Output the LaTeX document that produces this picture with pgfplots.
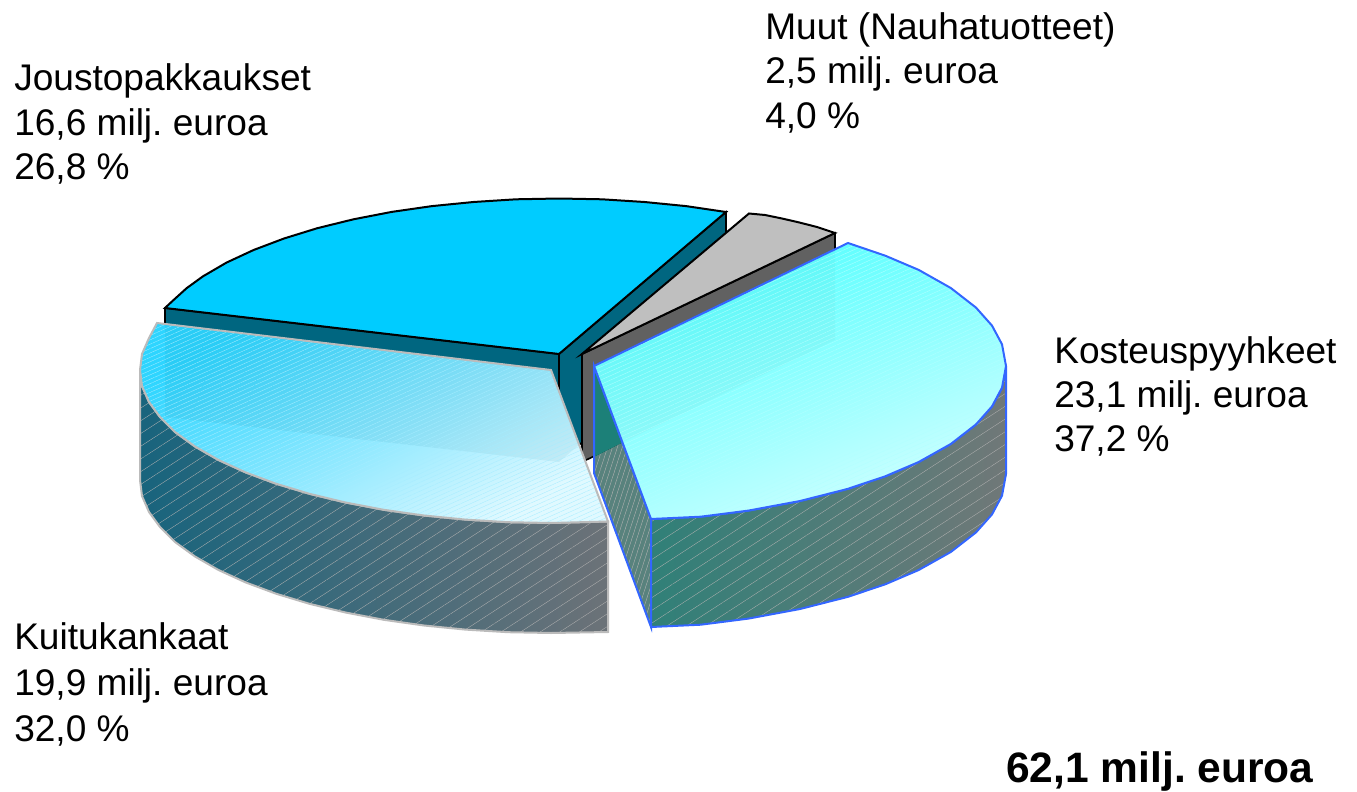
\documentclass[border=0pt]{standalone}
\usepackage{pgfplots}
\pgfplotsset{compat=1.18}
\usetikzlibrary{patterns.meta}
\usepackage{fontspec}
\setmainfont{Liberation Sans}
\frenchspacing
\definecolor{teal1}{HTML}{006680}
\definecolor{sky1}{HTML}{00CCFF}
\definecolor{edgeblue}{HTML}{3366FF}
\definecolor{edgegrey}{HTML}{BBBBBB}
\begin{document}
\begin{tikzpicture}
\begin{axis}[hide axis,scale only axis,width=1017.75pt,height=594pt,
  xmin=0,xmax=1357,ymin=0,ymax=792,y dir=reverse,clip=false,no markers]
\path[use as bounding box] (axis cs:0,0) rectangle (axis cs:1357,792);
% Joustopakkaukset walls
\addplot[draw=black,line width=1.2pt,fill=teal1] coordinates {(559,354)(726,212)(726,320)(559,462)} -- cycle;
\addplot[draw=black,line width=1.2pt,fill=teal1] coordinates {(165,308)(559,354)(559,462)(165,416)} -- cycle;
% Joustopakkaukset top
\addplot[draw=black,line width=1.5pt,fill=sky1] coordinates {(559,354)(165,308)(172.7,300.8)(186.6,288.2)(203,276.3)(226.5,262.6)(253.6,250)(284,238.5)(317.3,228.2)(353.5,219.3)(391.7,211.9)(432,206.1)(473.5,202)(516,199.3)(559,198.5)(602,199.3)(644.5,202)(686,206.1)(726,212)} -- cycle;
% Muut wall and top
\addplot[draw=black,line width=1.2pt,fill=black!62] coordinates {(582,354)(835,233)(835,340)(582,462)} -- cycle;
\addplot[draw=black,line width=1.5pt,fill=black!25] coordinates {(582,354)(749,213.5)(765,215)(782,218.5)(799,222.4)(817,227)(835,233)} -- cycle;
% Kuitukankaat wall
\addplot[draw=none,left color={rgb,255:red,24;green,100;blue,125},right color={rgb,255:red,108;green,114;blue,120}] coordinates {(140,370)(142,386)(149,402)(160,417)(175,432)(195,446.5)(218.5,460)(245.6,472.4)(276,483.7)(309.4,493.8)(345.5,502.5)(383.8,509.8)(424,515.5)(465.5,519.6)(508,522.2)(551,523)(608,521.5)(608,632)(551,633)(508,632.2)(465.5,629.6)(424,625.5)(383.8,619.8)(345.5,612.5)(309.4,603.8)(276,593.7)(245.6,582.4)(218.5,570)(195,556.5)(175,542)(160,527)(149,512)(142,496)(140,480)} -- cycle;
\addplot[draw=edgegrey,line width=1.5pt,pattern={Lines[angle=33,distance=8pt,line width=.25pt]},pattern color=black!30] coordinates {(140,370)(142,386)(149,402)(160,417)(175,432)(195,446.5)(218.5,460)(245.6,472.4)(276,483.7)(309.4,493.8)(345.5,502.5)(383.8,509.8)(424,515.5)(465.5,519.6)(508,522.2)(551,523)(608,521.5)(608,632)(551,633)(508,632.2)(465.5,629.6)(424,625.5)(383.8,619.8)(345.5,612.5)(309.4,603.8)(276,593.7)(245.6,582.4)(218.5,570)(195,556.5)(175,542)(160,527)(149,512)(142,496)(140,480)} -- cycle;
% Kuitukankaat top
\addplot[draw=none,top color=sky1!82!white,bottom color=sky1!12!white,shading angle=30] coordinates {(551,370)(157,323)(149,338)(142,354)(140,370)(142,386)(149,402)(160,417)(175,432)(195,446.5)(218.5,460)(245.6,472.4)(276,483.7)(309.4,493.8)(345.5,502.5)(383.8,509.8)(424,515.5)(465.5,519.6)(508,522.2)(551,523)(608,521.5)} -- cycle;
\addplot[draw=none,fill=teal1,fill opacity=.07] coordinates {(165,324.5)(551,370)(578.7,445)(559,462)(165,417)} -- cycle;
\addplot[draw=none,pattern={Lines[angle=24,distance=3pt,line width=.25pt]},pattern color=white!65!sky1] coordinates {(551,370)(157,323)(149,338)(142,354)(140,370)(142,386)(149,402)(160,417)(175,432)(195,446.5)(218.5,460)(245.6,472.4)(276,483.7)(309.4,493.8)(345.5,502.5)(383.8,509.8)(424,515.5)(465.5,519.6)(508,522.2)(551,523)(608,521.5)} -- cycle;
\addplot[draw=edgegrey,line width=1.5pt] coordinates {(551,370)(157,323)(149,338)(142,354)(140,370)(142,386)(149,402)(160,417)(175,432)(195,446.5)(218.5,460)(245.6,472.4)(276,483.7)(309.4,493.8)(345.5,502.5)(383.8,509.8)(424,515.5)(465.5,519.6)(508,522.2)(551,523)(608,521.5)} -- cycle;
% Kosteuspyyhkeet walls
\addplot[draw=none,fill={rgb,255:red,88;green,130;blue,125},postaction={pattern={Lines[angle=72,distance=3.5pt,line width=.3pt]},pattern color=black!30}] coordinates {(594,457)(622.5,442.4)(651,519)(651,627)(594,473)} -- cycle;
\addplot[draw=none,fill={rgb,255:red,28;green,128;blue,120}] coordinates {(594,366)(622.5,442.4)(594,457)} -- cycle;
\addplot[draw=edgeblue,line width=1.5pt] coordinates {(594,366)(651,519)(651,627)(594,473)} -- cycle;
\addplot[draw=none,left color={rgb,255:red,48;green,128;blue,120},right color={rgb,255:red,112;green,120;blue,120}] coordinates {(1006,366)(1002,387.7)(992,406.4)(976,424.4)(950.8,444)(918.7,462)(885.3,476.3)(847.7,488.9)(800,501)(748.4,510.6)(700.7,516.7)(651,519)(651,627)(700.7,624.7)(748.4,618.6)(800,609)(847.7,596.9)(885.3,584.3)(918.7,570)(950.8,552)(976,532.4)(992,514.4)(1002,495.7)(1006,474)} -- cycle;
\addplot[draw=edgeblue,line width=1.5pt,pattern={Lines[angle=33,distance=8pt,line width=.25pt]},pattern color=black!30] coordinates {(1006,366)(1002,387.7)(992,406.4)(976,424.4)(950.8,444)(918.7,462)(885.3,476.3)(847.7,488.9)(800,501)(748.4,510.6)(700.7,516.7)(651,519)(651,627)(700.7,624.7)(748.4,618.6)(800,609)(847.7,596.9)(885.3,584.3)(918.7,570)(950.8,552)(976,532.4)(992,514.4)(1002,495.7)(1006,474)} -- cycle;
% Kosteuspyyhkeet top
\addplot[draw=none,top color={rgb,255:red,80;green,255;blue,255},bottom color={rgb,255:red,210;green,255;blue,255},shading angle=20] coordinates {(594,366)(848,243)(885.3,255.7)(918.7,269.9)(950.8,288)(976,307.6)(992,325.6)(1002,344.3)(1006,366)(1002,387.7)(992,406.4)(976,424.4)(950.8,444)(918.7,462)(885.3,476.3)(847.7,488.9)(800,501)(748.4,510.6)(700.7,516.7)(651,519)} -- cycle;
\addplot[draw=none,fill=black,fill opacity=.025] coordinates {(594,366)(835,249)(835,340)(622.5,442.4)} -- cycle;
\addplot[draw=none,pattern={Lines[angle=24,distance=3pt,line width=.25pt]},pattern color=white!70!cyan] coordinates {(594,366)(848,243)(885.3,255.7)(918.7,269.9)(950.8,288)(976,307.6)(992,325.6)(1002,344.3)(1006,366)(1002,387.7)(992,406.4)(976,424.4)(950.8,444)(918.7,462)(885.3,476.3)(847.7,488.9)(800,501)(748.4,510.6)(700.7,516.7)(651,519)} -- cycle;
\addplot[draw=edgeblue,line width=1.5pt] coordinates {(594,366)(848,243)(885.3,255.7)(918.7,269.9)(950.8,288)(976,307.6)(992,325.6)(1002,344.3)(1006,366)(1002,387.7)(992,406.4)(976,424.4)(950.8,444)(918.7,462)(885.3,476.3)(847.7,488.9)(800,501)(748.4,510.6)(700.7,516.7)(651,519)} -- cycle;
% Texts
\tikzset{lab/.style={anchor=base west,inner sep=0pt,font=\fontsize{27.8pt}{33pt}\selectfont}}
\node[lab] at (axis cs:14,90) {Joustopakkaukset};
\node[lab] at (axis cs:14,135) {16,6 milj. euroa};
\node[lab] at (axis cs:14,179) {26,8 \%};
\node[lab] at (axis cs:765,40) {Muut (Nauhatuotteet)};
\node[lab] at (axis cs:765,84) {2,5 milj. euroa};
\node[lab] at (axis cs:765,128) {4,0 \%};
\node[lab] at (axis cs:1054,363) {Kosteuspyyhkeet};
\node[lab] at (axis cs:1054,407) {23,1 milj. euroa};
\node[lab] at (axis cs:1054,451) {37,2 \%};
\node[lab] at (axis cs:14,649) {Kuitukankaat};
\node[lab] at (axis cs:14,695) {19,9 milj. euroa};
\node[lab] at (axis cs:14,741) {32,0 \%};
\node[anchor=base west,inner sep=0pt,font=\fontsize{31.9pt}{38pt}\selectfont\bfseries] at (axis cs:1006,782) {62,1 milj. euroa};
\end{axis}
\end{tikzpicture}
\end{document}
